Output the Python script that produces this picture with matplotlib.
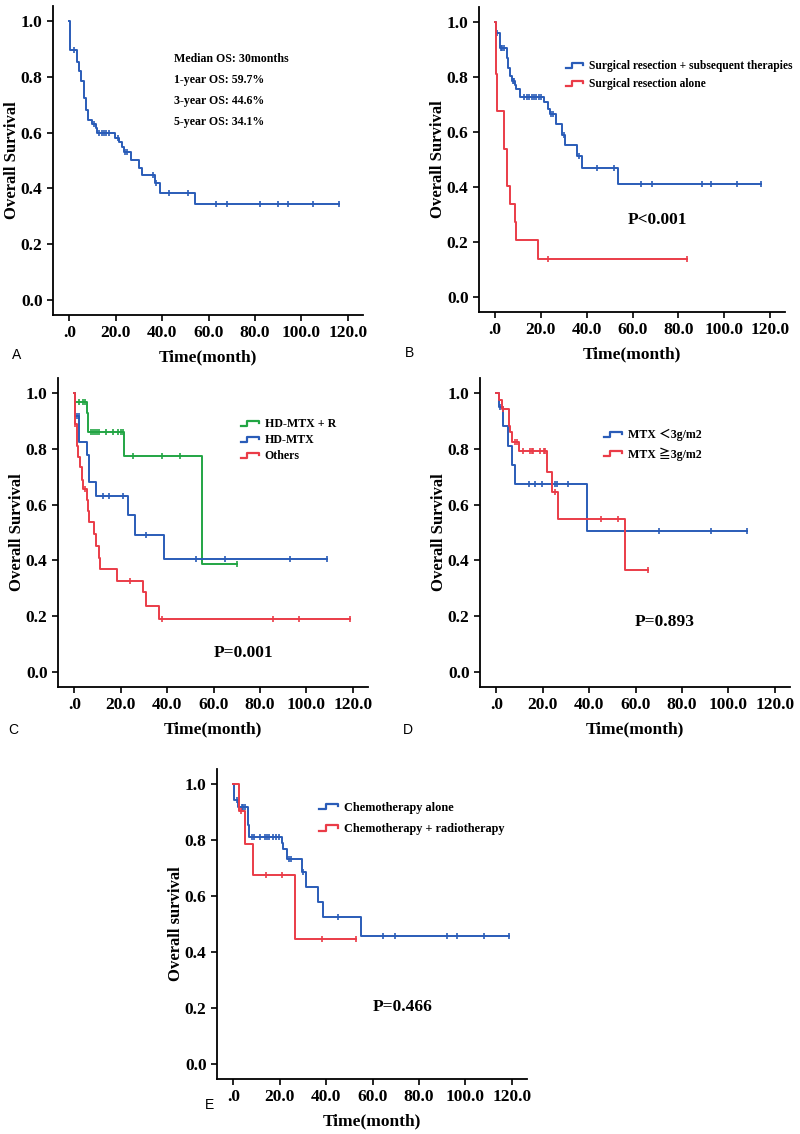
import numpy as np
import matplotlib
matplotlib.use('Agg')
import matplotlib.pyplot as plt
from matplotlib.lines import Line2D
from matplotlib.legend_handler import HandlerBase

plt.rcParams['font.family'] = ['Liberation Serif', 'DejaVu Serif']

BLUE = '#2a5cb8'
RED = '#ea3c48'
GREEN = '#22a544'

# ---- data: event times, survival after each event, censor times ----
# A: all patients
a_t = [0.5, 3.2, 4.3, 5.0, 6.2, 7.0, 8.0, 10.0, 11.5, 12.0, 19.5, 21.5, 22.5, 23.5, 26.5, 30.0, 31.5, 37.0, 39.0, 54.0]
a_s = [0.897, 0.853, 0.82, 0.785, 0.726, 0.68, 0.645, 0.631, 0.615, 0.597, 0.582, 0.565, 0.55, 0.53, 0.502, 0.474, 0.448, 0.418, 0.385, 0.342]
a_c = [2.0, 10.5, 13, 14, 15, 16, 17, 21, 24, 25, 36, 37.5, 43, 51, 63, 68, 82, 90, 94, 105, 116]

# B: surgery groups
b1_t = [0.4, 2.1, 5.0, 5.7, 6.4, 7.6, 8.6, 9.3, 11.0, 21.4, 22.9, 23.9, 26.4, 29.3, 30.7, 35.7, 37.9, 53.6]
b1_s = [0.96, 0.907, 0.868, 0.834, 0.803, 0.785, 0.77, 0.756, 0.726, 0.71, 0.685, 0.665, 0.629, 0.59, 0.553, 0.514, 0.469, 0.411]
b1_c = [1.0, 2.5, 3.0, 4.0, 7.8, 8.2, 12.5, 14, 15, 16, 17, 18, 19, 20, 24.5, 25.2, 30.0, 36.5, 44.6, 51.7, 63.6, 68.6, 90.4, 94.3, 105.7, 116.1]
b2_t = [0.3, 0.5, 1.0, 3.9, 5.3, 6.4, 8.6, 9.3, 18.6]
b2_s = [0.87, 0.81, 0.677, 0.54, 0.405, 0.339, 0.272, 0.206, 0.138]
b2_c = [23.1, 83.9]

# C: treatment regimens
c1_t = [0.4, 5.3, 5.8, 21.6, 54.8]
c1_s = [0.967, 0.931, 0.86, 0.774, 0.387]
c1_c = [2.2, 3.9, 4.6, 7.2, 8.2, 9.0, 10.0, 10.8, 13.7, 16.6, 18.8, 20.2, 20.9, 25.2, 37.9, 45.4, 70.0]
c2_t = [0.4, 2.2, 5.3, 6.5, 9.4, 23.1, 26.0, 38.7]
c2_s = [0.919, 0.825, 0.777, 0.681, 0.631, 0.562, 0.49, 0.405]
c2_c = [1.0, 2.0, 12.3, 14.9, 21.2, 31.0, 52.6, 64.9, 92.7, 108.9]
c3_t = [0.2, 1.0, 1.4, 2.5, 3.3, 3.9, 5.3, 5.8, 6.5, 8.4, 9.4, 10.8, 11.3, 18.3, 29.6, 31.0, 36.5]
c3_s = [0.89, 0.81, 0.77, 0.735, 0.69, 0.657, 0.615, 0.577, 0.536, 0.494, 0.45, 0.41, 0.369, 0.327, 0.286, 0.235, 0.19]
c3_c = [0.5, 4.6, 23.8, 37.8, 85.5, 96.6, 118.6]

# D: MTX dose
d1_t = [1.0, 3.1, 4.9, 6.7, 7.9, 39.1]
d1_s = [0.95, 0.881, 0.81, 0.744, 0.676, 0.506]
d1_c = [1.7, 13.9, 16.7, 19.6, 25.3, 26.0, 31.0, 70.0, 92.4, 108.1]
d2_t = [1.3, 2.4, 5.3, 6.0, 6.7, 9.6, 21.7, 24.1, 26.7, 55.3]
d2_s = [0.975, 0.944, 0.883, 0.86, 0.825, 0.792, 0.717, 0.645, 0.55, 0.367]
d2_c = [3.0, 8.1, 9.0, 11.7, 14.6, 15.3, 16.0, 18.9, 20.6, 21.2, 25.2, 45.3, 52.4, 65.3]

# E: chemo vs chemo + radiotherapy
e1_t = [0.4, 2.2, 6.5, 6.9, 20.8, 21.6, 23.3, 29.5, 31.3, 36.6, 38.5, 55.0]
e1_s = [0.944, 0.92, 0.855, 0.81, 0.79, 0.77, 0.732, 0.685, 0.631, 0.577, 0.526, 0.458]
e1_c = [1.4, 3.6, 4.3, 5.0, 8.0, 9.0, 11.5, 13.5, 14.5, 15.5, 17.0, 18.5, 19.5, 24.0, 25.0, 30.0, 45.3, 64.4, 69.7, 92.0, 96.3, 107.8, 118.6]
e2_t = [2.6, 5.0, 8.3, 26.6]
e2_s = [0.905, 0.788, 0.675, 0.446]
e2_c = [3.3, 14.1, 20.8, 38.1, 52.9]

x_ticks = [0, 20, 40, 60, 80, 100, 120]
x_labels = ['.0', '20.0', '40.0', '60.0', '80.0', '100.0', '120.0']
y_ticks = [0.0, 0.2, 0.4, 0.6, 0.8, 1.0]


class StepHandler(HandlerBase):
    # small step-shaped legend key like SPSS
    def create_artists(self, legend, orig_handle, xdescent, ydescent, width, height, fontsize, trans):
        w, h = width, height
        xs = [-xdescent, -xdescent + 0.35 * w, -xdescent + 0.35 * w, -xdescent + w, -xdescent + w]
        ys = [0.15 * h, 0.15 * h, 0.75 * h, 0.75 * h, 0.5 * h]
        ln = Line2D(xs, ys, color=orig_handle.get_color(), lw=1.6, transform=trans)
        return [ln]


def km(ax, times, surv, cens, color, label=None):
    t = np.concatenate([[0.0], times])
    s = np.concatenate([[1.0], surv])
    end = max(max(times), max(cens))
    tt = np.append(t, end)
    ss = np.append(s, s[-1])
    line, = ax.step(tt, ss, where='post', color=color, lw=1.4, label=label)
    # survival at censor times
    idx = np.searchsorted(t, cens, side='right') - 1
    ax.plot(cens, s[idx], ls='none', marker='|', ms=5, mew=1.2, color=color)
    return line


def setup(ax, ylabel='Overall Survival'):
    ax.set_xlim(-7, 126.5)
    ax.set_ylim(-0.055, 1.055)
    ax.spines['top'].set_visible(False)
    ax.spines['right'].set_visible(False)
    ax.spines['left'].set_linewidth(1.3)
    ax.spines['bottom'].set_linewidth(1.3)
    ax.set_xticks(x_ticks)
    ax.set_xticklabels(x_labels)
    ax.set_yticks(y_ticks)
    ax.set_yticklabels(['%.1f' % v for v in y_ticks])
    ax.tick_params(direction='out', length=4, width=1.2, labelsize=12.5)
    for lb in ax.get_xticklabels() + ax.get_yticklabels():
        lb.set_fontweight('bold')
    ax.set_xlabel('Time(month)', fontsize=12.5, fontweight='bold', labelpad=6)
    ax.set_ylabel(ylabel, fontsize=12, fontweight='bold', labelpad=0.5)


W, H = 800, 1134
fig = plt.figure(figsize=(W / 100, H / 100), dpi=100)


def add_axes(left, right, top, bottom):
    return fig.add_axes([left / W, 1 - bottom / H, (right - left) / W, (bottom - top) / H])


def leg(ax, x, y, size=8.6, spacing=0.5):
    lg = ax.legend(loc='upper left', bbox_to_anchor=(x, y), frameon=False,
                   handler_map={Line2D: StepHandler()}, handlelength=1.5, handletextpad=0.5,
                   labelspacing=spacing,
                   prop={'family': ['Liberation Serif', 'Noto Sans CJK SC'], 'weight': 'bold', 'size': size})
    return lg


# A
axA = add_axes(53, 363, 6, 315)
km(axA, a_t, a_s, a_c, BLUE)
setup(axA)
notes = ['Median OS: 30months', '1-year OS: 59.7%', '3-year OS: 44.6%', '5-year OS: 34.1%']
for i, txt in enumerate(notes):
    axA.text(45, 0.863 - i * 0.0745, txt, fontsize=8.6, fontweight='bold', va='center', ha='left')

# B
axB = add_axes(479, 785, 7, 312)
km(axB, b1_t, b1_s, b1_c, BLUE, 'Surgical resection + subsequent therapies')
km(axB, b2_t, b2_s, b2_c, RED, 'Surgical resection alone')
setup(axB)
leg(axB, 0.25, 0.86, size=8.3)
axB.text(70.7, 0.278, 'P<0.001', fontsize=12.5, fontweight='bold', ha='center', va='center')

# C
axC = add_axes(58, 368, 378, 687)
km(axC, c1_t, c1_s, c1_c, GREEN, 'HD-MTX + R')
km(axC, c2_t, c2_s, c2_c, BLUE, 'HD-MTX')
km(axC, c3_t, c3_s, c3_c, RED, 'Others')
setup(axC)
leg(axC, 0.555, 0.905, spacing=0.35)
axC.text(72.8, 0.068, 'P=0.001', fontsize=12.5, fontweight='bold', ha='center', va='center')

# D
axD = add_axes(480, 790, 378, 687)
km(axD, d1_t, d1_s, d1_c, BLUE, 'MTX \uff1c3g/m2')
km(axD, d2_t, d2_s, d2_c, RED, 'MTX \u22673g/m2')
setup(axD)
leg(axD, 0.365, 0.87)
axD.text(72.7, 0.179, 'P=0.893', fontsize=12.5, fontweight='bold', ha='center', va='center')

# E
axE = add_axes(217, 527, 769, 1079)
km(axE, e1_t, e1_s, e1_c, BLUE, 'Chemotherapy alone')
km(axE, e2_t, e2_s, e2_c, RED, 'Chemotherapy + radiotherapy')
setup(axE, 'Overall survival')
leg(axE, 0.295, 0.93, size=8.8, spacing=0.75)
axE.text(72.9, 0.202, 'P=0.466', fontsize=12.5, fontweight='bold', ha='center', va='center')

# panel letters
for lbl, x, y in [('A', 12, 355), ('B', 405, 353), ('C', 8, 730), ('D', 403, 730), ('E', 205, 1105)]:
    fig.text(x / W, 1 - y / H, lbl, fontsize=10, family='Liberation Sans', ha='left', va='center')

fig.savefig('out.png', dpi=100)
